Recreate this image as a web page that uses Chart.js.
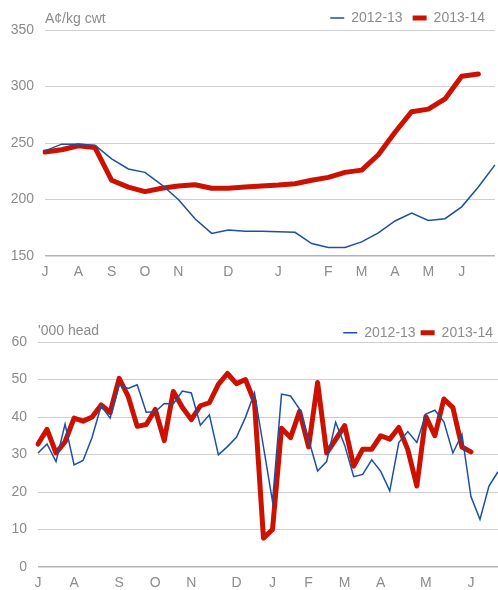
<!DOCTYPE html>
<html>
<head>
<meta charset="utf-8">
<script src="https://cdn.jsdelivr.net/npm/chart.js@4/dist/chart.umd.min.js"></script>
<style>
html, body { margin: 0; padding: 0; background: #fff; }
.box { position: absolute; left: 0; width: 498px; }
</style>
</head>
<body>
<div class="box" style="top:0;height:290px"><canvas id="priceChart" width="498" height="290"></canvas></div>
<div class="box" style="top:312px;height:278px"><canvas id="headChart" width="498" height="278"></canvas></div>
<script>
// top chart: fortnightly prices
const priceLabels = ['J','','A','','S','','O','','N','','','D','','','J','','','F','','M','','A','','M','','J','','']
const price1213 = [243,249,249,248,236,227,224,213,200,183,170,173,172,172,171.5,171,161,157.5,157.5,162.5,170.5,181,188,181.5,183,193.5,211,230.6]
const price1314 = [242,244,247.6,246,217,211,207,210,212,213,210,210,211,212,212.8,214,217,219.6,224,226,239.6,259.5,277.7,280,289,309,311,null]

// bottom chart: weekly head
const headLabels = ['J','','','','A','','','','','S','','','','O','','','','N','','','','','D','','','','J','','','','F','','','','M','','','','A','','','','','M','','','','','J','','','']
const head1213 = [30.4,32.8,28.1,38.1,27.2,28.4,34.6,43,39.7,48.6,47.6,48.6,41.3,41.4,43.6,43.5,46.9,46.4,37.8,40.6,29.9,32.1,34.6,39.9,46.4,32,17.5,46.1,45.6,42.1,34,25.6,28.1,38.6,32.5,24.1,24.7,28.6,25.5,20.3,33.2,36.1,33.2,40.8,41.8,38.7,30.4,35.4,18.8,12.7,21.6,25.4]
const head1314 = [32.8,36.7,30.4,33.4,39.7,38.9,40,43.2,41.2,50.3,45.5,37.5,38,42,33.7,46.8,42.6,39.3,43,43.8,48.7,51.6,48.9,50,44,7.7,10,37,34.5,41.5,32,49.2,30.4,34,37.7,26.9,31.4,31.4,35,34.1,37.2,31.3,21.6,40.1,35,44.8,42.5,32,30.7,null,null,null]

const BLUE = '#1d4fa6'
const RED = '#cc1100'
const GREY = '#8c8c8c'
const FONT = { family: '"Helvetica Neue", Helvetica, "Liberation Sans", Arial, sans-serif', size: 14 }

// draws the unit text above the y axis
const unitLabel = {
  id: 'unitLabel',
  afterDraw(chart, args, opts) {
    const ctx = chart.ctx
    ctx.save()
    ctx.font = '14px ' + FONT.family
    ctx.fillStyle = GREY
    ctx.textAlign = 'left'
    ctx.textBaseline = 'middle'
    ctx.fillText(opts.text, chart.chartArea.left, chart.chartArea.top - 11)
    ctx.restore()
  }
}

function makeChart(id, labels, a, b, yMin, yMax, step, axisWidth, xHeight, unit, pad, legendPad, legendMax) {
  return new Chart(document.getElementById(id), {
    type: 'line',
    data: {
      labels: labels,
      datasets: [{
        label: '2012-13',
        data: a,
        borderColor: BLUE,
        borderWidth: 1.5,
        pointRadius: 0,
        tension: 0
      }, {
        label: '2013-14',
        data: b,
        borderColor: RED,
        borderWidth: 5,
        borderCapStyle: 'round',
        borderJoinStyle: 'round',
        pointRadius: 0,
        tension: 0
      }]
    },
    options: {
      responsive: false,
      animation: false,
      layout: { padding: pad },
      plugins: {
        legend: {
          position: 'top',
          align: 'end',
          maxHeight: legendMax,
          labels: {
            usePointStyle: true,
            pointStyle: 'line',
            pointStyleWidth: 14,
            padding: legendPad,
            color: GREY,
            font: FONT
          }
        },
        tooltip: { enabled: false },
        unitLabel: { text: unit }
      },
      scales: {
        x: {
          // tick marks hidden, their length only pushes the labels down
          grid: { display: false, drawTicks: true, tickLength: 7.5 },
          border: { display: false },
          ticks: { autoSkip: false, maxRotation: 0, padding: 0, color: GREY, font: FONT },
          afterFit: s => { s.height = xHeight }
        },
        y: {
          min: yMin,
          max: yMax,
          grid: {
            color: c => c.tick.value === yMin ? '#b4b4b4' : '#cfcfcf',
            lineWidth: c => c.tick.value === yMin ? 1.5 : 1,
            drawTicks: false
          },
          border: { display: false },
          ticks: { stepSize: step, padding: 11, color: GREY, font: FONT },
          afterFit: s => { s.width = axisWidth }
        }
      }
    },
    plugins: [unitLabel]
  })
}

makeChart('priceChart', priceLabels, price1213, price1314, 150, 350, 50, 45, 34, 'A¢/kg cwt',
  { top: 1, right: 3, left: 0, bottom: 0 }, 10, 29)
makeChart('headChart', headLabels, head1213, head1314, 0, 60, 10, 38, 23, '\'000 head',
  { top: 8.7, right: 0, left: 0, bottom: 0 }, 5, 21.3)
</script>
</body>
</html>
